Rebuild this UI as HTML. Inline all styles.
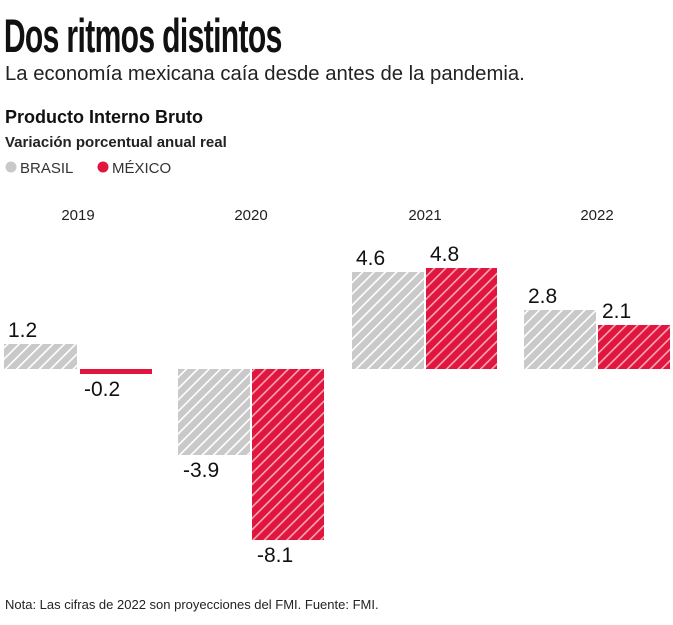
<!DOCTYPE html>
<html><head><meta charset="utf-8"><style>
body{margin:0;background:#fff;width:673px;height:620px;overflow:hidden;font-family:"Liberation Sans",sans-serif;color:#111}
</style></head><body>
<svg width="673" height="620" xmlns="http://www.w3.org/2000/svg" font-family="Liberation Sans, sans-serif">
<defs>
<pattern id="hg" patternUnits="userSpaceOnUse" width="8" height="8" patternTransform="rotate(45)">
<rect width="8" height="8" fill="#c9c9c9"/><rect x="0" width="1.6" height="8" fill="#fff"/></pattern>
<pattern id="hr" patternUnits="userSpaceOnUse" width="8" height="8" patternTransform="rotate(45)">
<rect width="8" height="8" fill="#e0163f"/><rect x="0" width="1.6" height="8" fill="#f7a7b7"/></pattern>
</defs>
<text x="6" y="52" font-size="47" transform="scale(0.64,1)" font-weight="bold" fill="#111" style="letter-spacing:-1px">Dos ritmos distintos</text>
<text x="5" y="80" font-size="20.3" fill="#222">La economía mexicana caía desde antes de la pandemia.</text>
<text x="5" y="123" font-size="18" font-weight="bold" fill="#111">Producto Interno Bruto</text>
<text x="5" y="147" font-size="15" font-weight="bold" fill="#222">Variación porcentual anual real</text>
<circle cx="11" cy="167" r="5.5" fill="#c9c9c9"/>
<text x="20" y="173" font-size="15" fill="#333">BRASIL</text>
<circle cx="103" cy="167" r="5.5" fill="#e0163f"/>
<text x="112" y="173" font-size="15" fill="#333">MÉXICO</text>
<g font-size="15" fill="#222" text-anchor="middle">
<text x="78" y="220">2019</text><text x="251" y="220">2020</text>
<text x="425" y="220">2021</text><text x="597" y="220">2022</text></g>
<rect x="4" y="344" width="73" height="25" fill="url(#hg)"/>
<rect x="80" y="369" width="72" height="5" fill="#e0163f"/>
<rect x="178" y="369" width="72" height="86" fill="url(#hg)"/>
<rect x="252" y="369" width="72" height="171" fill="url(#hr)"/>
<rect x="352" y="272" width="72" height="97" fill="url(#hg)"/>
<rect x="426" y="268" width="71" height="101" fill="url(#hr)"/>
<rect x="524" y="310" width="72" height="59" fill="url(#hg)"/>
<rect x="598" y="325" width="72" height="44" fill="url(#hr)"/>
<g font-size="21" fill="#111">
<text x="8" y="337">1.2</text><text x="84" y="396">-0.2</text>
<text x="183" y="477">-3.9</text><text x="257" y="562">-8.1</text>
<text x="356" y="265">4.6</text><text x="430" y="261">4.8</text>
<text x="528" y="303">2.8</text><text x="602" y="318">2.1</text></g>
<text x="5" y="609" font-size="13" fill="#222">Nota: Las cifras de 2022 son proyecciones del FMI. Fuente: FMI.</text>
</svg>
</body></html>
